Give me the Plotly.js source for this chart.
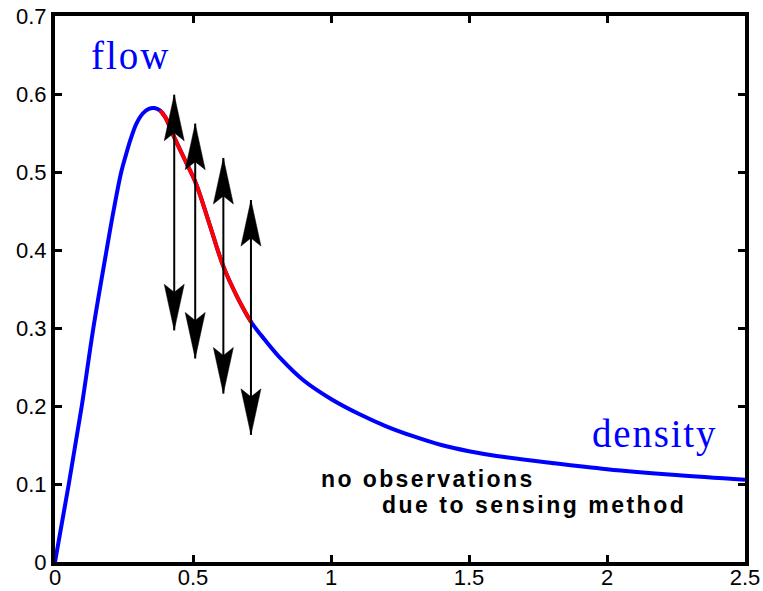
<!DOCTYPE html>
<html>
<head>
<meta charset="utf-8">
<script src="https://cdn.plot.ly/plotly-3.0.1.min.js"></script>
<style>
html, body { margin: 0; padding: 0; background: #fff; }
#chart { width: 763px; height: 591px; }
</style>
</head>
<body>
<div id="chart"></div>
<script>
// Fundamental diagram: flow vs density
var density = [0, 0.05, 0.097, 0.139, 0.187, 0.212, 0.240, 0.257, 0.275, 0.295, 0.318, 0.34, 0.36, 0.38, 0.40, 0.43, 0.47, 0.51, 0.56, 0.61, 0.66, 0.71, 0.76, 0.82, 0.90, 1.0, 1.1, 1.2, 1.3, 1.4, 1.5, 1.6, 1.8, 2.0, 2.25, 2.5];
var flow    = [0, 0.10, 0.20, 0.30, 0.40, 0.45, 0.50, 0.522, 0.543, 0.562, 0.575, 0.581, 0.582, 0.579, 0.570, 0.546, 0.516, 0.486, 0.433, 0.379, 0.340, 0.308, 0.285, 0.260, 0.233, 0.209, 0.190, 0.174, 0.161, 0.150, 0.142, 0.136, 0.127, 0.119, 0.1115, 0.1055];

// range of the curve that is highlighted in red
var redFrom = 0.38;
var redTo = 0.71;

// vertical double-headed arrows (variation of observed flow)
var arrowX      = [0.432, 0.508, 0.610, 0.710];
var arrowTop    = [0.599, 0.562, 0.518, 0.464];
var arrowBottom = [0.297, 0.261, 0.216, 0.163];

// text labels
var labelFlow = "flow";
var labelDensity = "density";
var note1 = "no observations";
var note2 = "due to sensing method";

var redX = [], redY = [];
for (var i = 0; i < density.length; i++) {
  if (density[i] >= redFrom - 1e-9 && density[i] <= redTo + 1e-9) {
    redX.push(density[i]); redY.push(flow[i]);
  }
}

var traces = [
  { x: density, y: flow, type: 'scatter', mode: 'lines',
    line: { color: '#0000ff', width: 4, shape: 'spline', smoothing: 1 }, hoverinfo: 'skip' },
  { x: redX, y: redY, type: 'scatter', mode: 'lines',
    line: { color: '#ff0000', width: 4, shape: 'spline', smoothing: 1 }, hoverinfo: 'skip' }
];

var shapes = [];
var headLen = 46, headHalf = 10, notch = 38;
var upHead = 'M0,0 L' + (-headHalf) + ',' + (-headLen) + ' L0,' + (-notch) + ' L' + headHalf + ',' + (-headLen) + ' Z';
var downHead = 'M0,0 L' + (-headHalf) + ',' + headLen + ' L0,' + notch + ' L' + headHalf + ',' + headLen + ' Z';
for (var k = 0; k < arrowX.length; k++) {
  shapes.push({ type: 'line', xref: 'x', yref: 'y', x0: arrowX[k], x1: arrowX[k],
    y0: arrowBottom[k], y1: arrowTop[k], line: { color: '#000', width: 2 } });
  shapes.push({ type: 'path', xref: 'x', yref: 'y', xsizemode: 'pixel', ysizemode: 'pixel',
    xanchor: arrowX[k], yanchor: arrowTop[k], path: upHead,
    fillcolor: '#000', line: { color: '#000', width: 0.5 } });
  shapes.push({ type: 'path', xref: 'x', yref: 'y', xsizemode: 'pixel', ysizemode: 'pixel',
    xanchor: arrowX[k], yanchor: arrowBottom[k], path: downHead,
    fillcolor: '#000', line: { color: '#000', width: 0.5 } });
}

var serif = { family: '"Liberation Serif", "Times New Roman", serif', size: 39, color: '#0000ff' };
var sansB = { family: '"Liberation Sans", Arial, Helvetica, sans-serif', size: 23, color: '#000', weight: 'bold' };

var annotations = [
  { text: labelFlow, x: 0.123, y: 0.679, xref: 'x', yref: 'y', xanchor: 'left', yanchor: 'top', align: 'left', showarrow: false, font: serif },
  { text: labelDensity, x: 1.938, y: 0.195, xref: 'x', yref: 'y', xanchor: 'left', yanchor: 'top', align: 'left', showarrow: false, font: serif },
  { text: note1, x: 0.956, y: 0.1254, xref: 'x', yref: 'y', xanchor: 'left', yanchor: 'top', align: 'left', showarrow: false, font: sansB },
  { text: note2, x: 1.177, y: 0.092, xref: 'x', yref: 'y', xanchor: 'left', yanchor: 'top', align: 'left', showarrow: false, font: sansB }
];
var spacing = ['2px', '1.8px', '2.4px', '2.5px'];

var axisCommon = {
  showline: true, linecolor: '#000', linewidth: 4, mirror: 'allticks',
  ticks: 'inside', ticklen: 7, tickwidth: 3, tickcolor: '#000',
  showgrid: false, zeroline: false, fixedrange: true,
  tickfont: { family: '"Liberation Sans", Arial, Helvetica, sans-serif', size: 22, color: '#000' }
};

var layout = {
  width: 763, height: 591,
  margin: { l: 55, r: 18, t: 16, b: 29 },
  paper_bgcolor: '#fff', plot_bgcolor: '#fff',
  showlegend: false,
  xaxis: Object.assign({}, axisCommon, { range: [0, 2.5], tick0: 0, dtick: 0.5, ticklabelstandoff: -7 }),
  yaxis: Object.assign({}, axisCommon, { range: [0, 0.7], tick0: 0, dtick: 0.1 }),
  shapes: shapes,
  annotations: annotations
};

Plotly.newPlot('chart', traces, layout, { displayModeBar: false, staticPlot: true }).then(function () {
  var texts = document.querySelectorAll('#chart .annotation-text');
  for (var j = 0; j < texts.length && j < spacing.length; j++) {
    texts[j].style.letterSpacing = spacing[j];
  }
});
</script>
</body>
</html>
